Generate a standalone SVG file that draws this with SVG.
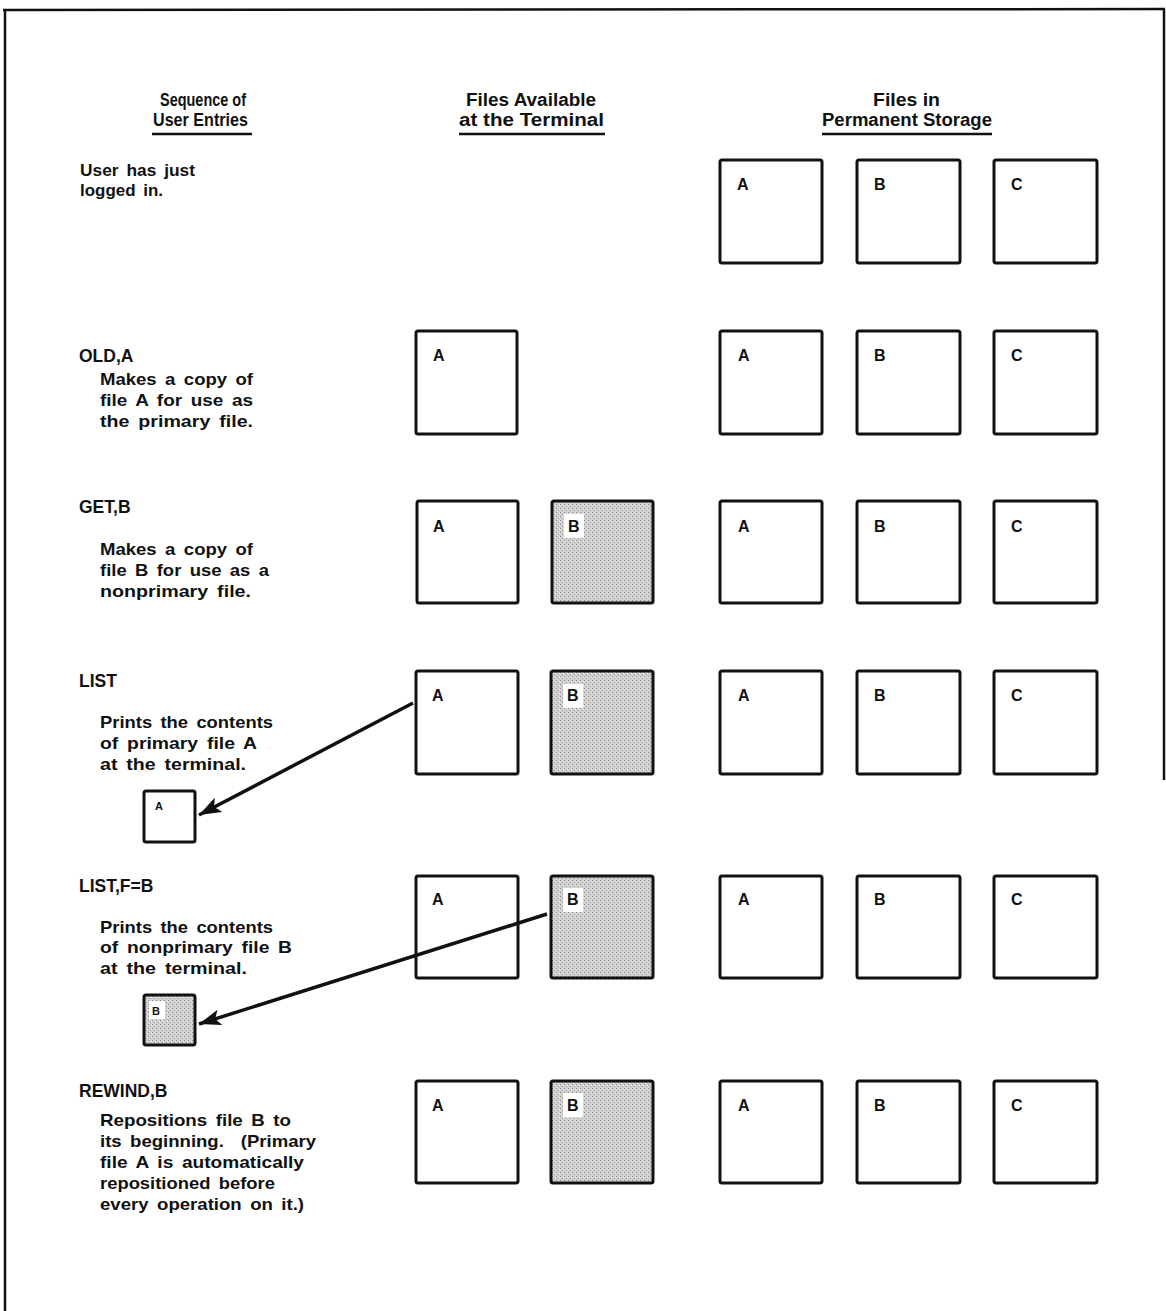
<svg xmlns="http://www.w3.org/2000/svg" width="1166" height="1311" viewBox="0 0 1166 1311">
<style>
text{font-family:"Liberation Sans",Arial,sans-serif;font-weight:bold;fill:#111;}
.h{font-size:18px;font-family:"Liberation Sans Narrow","Liberation Sans",Arial,sans-serif;}
.t{font-size:17px;word-spacing:3px;}
.c{font-size:17.5px;}
.lbl{font-size:16px;}
.sm{font-size:11px;}
.box{fill:#fff;stroke:#111;stroke-width:3;}
.sh{fill:url(#stip);stroke:#111;stroke-width:3;}
.ul{stroke:#111;stroke-width:2.5;}
.conn{stroke:#111;stroke-width:3.5;fill:none;}
</style>
<defs>
<pattern id="stip" width="4" height="4" patternUnits="userSpaceOnUse">
<rect width="4" height="4" fill="#d2d2d2"/>
<rect x="0" y="0" width="1" height="1" fill="#888"/>
<rect x="2" y="2" width="1" height="1" fill="#999"/>
<rect x="3" y="1" width="1" height="1" fill="#eee"/>
</pattern>
<marker id="arr" markerUnits="userSpaceOnUse" markerWidth="24" markerHeight="16" refX="22" refY="8" orient="auto">
<path d="M0,0 L22,8 L0,16 L5,8 Z" fill="#111"/>
</marker>
</defs>
<rect width="1166" height="1311" fill="#fff"/>
<g id="frame" stroke="#111" stroke-width="2.5" fill="none">
<line x1="3" y1="10" x2="1165" y2="9"/>
<line x1="5" y1="10" x2="5" y2="1311"/>
<line x1="1164" y1="9" x2="1164" y2="780"/>
</g>
<g id="headers">
<text class="h" x="160" y="106" textLength="86" lengthAdjust="spacingAndGlyphs">Sequence of</text>
<text class="h" x="153" y="126" textLength="95" lengthAdjust="spacingAndGlyphs">User Entries</text>
<line class="ul" x1="152" y1="134" x2="252" y2="134"/>
<text class="h" x="466" y="106" textLength="130" lengthAdjust="spacingAndGlyphs">Files Available</text>
<text class="h" x="459" y="126" textLength="145" lengthAdjust="spacingAndGlyphs">at the Terminal</text>
<line class="ul" x1="459" y1="134" x2="605" y2="134"/>
<text class="h" x="873" y="106" textLength="67" lengthAdjust="spacingAndGlyphs">Files in</text>
<text class="h" x="822" y="126" textLength="170" lengthAdjust="spacingAndGlyphs">Permanent Storage</text>
<line class="ul" x1="822" y1="134" x2="992" y2="134"/>
</g>
<g id="entries">
<text class="t" x="80" y="176" textLength="115" lengthAdjust="spacingAndGlyphs">User has just</text>
<text class="t" x="80" y="196" textLength="83" lengthAdjust="spacingAndGlyphs">logged in.</text>
<text class="c" x="79" y="362">OLD,A</text>
<text class="t" x="100" y="385" textLength="153" lengthAdjust="spacingAndGlyphs">Makes a copy of</text>
<text class="t" x="100" y="406" textLength="153" lengthAdjust="spacingAndGlyphs">file A for use as</text>
<text class="t" x="100" y="427" textLength="153" lengthAdjust="spacingAndGlyphs">the primary file.</text>
<text class="c" x="79" y="513">GET,B</text>
<text class="t" x="100" y="555" textLength="153" lengthAdjust="spacingAndGlyphs">Makes a copy of</text>
<text class="t" x="100" y="576" textLength="169" lengthAdjust="spacingAndGlyphs">file B for use as a</text>
<text class="t" x="100" y="597" textLength="151" lengthAdjust="spacingAndGlyphs">nonprimary file.</text>
<text class="c" x="79" y="687">LIST</text>
<text class="t" x="100" y="728" textLength="173" lengthAdjust="spacingAndGlyphs">Prints the contents</text>
<text class="t" x="100" y="749" textLength="157" lengthAdjust="spacingAndGlyphs">of primary file A</text>
<text class="t" x="100" y="770" textLength="146" lengthAdjust="spacingAndGlyphs">at the terminal.</text>
<text class="c" x="79" y="892">LIST,F=B</text>
<text class="t" x="100" y="933" textLength="173" lengthAdjust="spacingAndGlyphs">Prints the contents</text>
<text class="t" x="100" y="953" textLength="192" lengthAdjust="spacingAndGlyphs">of nonprimary file B</text>
<text class="t" x="100" y="974" textLength="147" lengthAdjust="spacingAndGlyphs">at the terminal.</text>
<text class="c" x="79" y="1097">REWIND,B</text>
<text class="t" x="100" y="1126" textLength="191" lengthAdjust="spacingAndGlyphs">Repositions file B to</text>
<text class="t" x="100" y="1147" textLength="216" lengthAdjust="spacingAndGlyphs" xml:space="preserve">its beginning.  (Primary</text>
<text class="t" x="100" y="1168" textLength="204" lengthAdjust="spacingAndGlyphs">file A is automatically</text>
<text class="t" x="100" y="1189" textLength="175" lengthAdjust="spacingAndGlyphs">repositioned before</text>
<text class="t" x="100" y="1210" textLength="204" lengthAdjust="spacingAndGlyphs">every operation on it.)</text>
</g>
<!-- row 1 -->
<g id="r1-sA"><rect class="box" x="720" y="160" width="102" height="103" rx="2"/><text class="lbl" x="737" y="190">A</text></g>
<g id="r1-sB"><rect class="box" x="857" y="160" width="103" height="103" rx="2"/><text class="lbl" x="874" y="190">B</text></g>
<g id="r1-sC"><rect class="box" x="994" y="160" width="103" height="103" rx="2"/><text class="lbl" x="1011" y="190">C</text></g>
<!-- row 2 -->
<g id="r2-tA"><rect class="box" x="416" y="331" width="101" height="103" rx="2"/><text class="lbl" x="433" y="361">A</text></g>
<g id="r2-sA"><rect class="box" x="720" y="331" width="102" height="103" rx="2"/><text class="lbl" x="738" y="361">A</text></g>
<g id="r2-sB"><rect class="box" x="857" y="331" width="103" height="103" rx="2"/><text class="lbl" x="874" y="361">B</text></g>
<g id="r2-sC"><rect class="box" x="994" y="331" width="103" height="103" rx="2"/><text class="lbl" x="1011" y="361">C</text></g>
<!-- row 3 -->
<g id="r3-tA"><rect class="box" x="417" y="501" width="101" height="102" rx="2"/><text class="lbl" x="433" y="532">A</text></g>
<g id="r3-tB"><rect class="sh" x="552" y="501" width="101" height="102" rx="2"/><rect x="564" y="514" width="20" height="24" fill="#fff"/><text class="lbl" x="568" y="532">B</text></g>
<g id="r3-sA"><rect class="box" x="720" y="501" width="102" height="102" rx="2"/><text class="lbl" x="738" y="532">A</text></g>
<g id="r3-sB"><rect class="box" x="857" y="501" width="103" height="102" rx="2"/><text class="lbl" x="874" y="532">B</text></g>
<g id="r3-sC"><rect class="box" x="994" y="501" width="103" height="102" rx="2"/><text class="lbl" x="1011" y="532">C</text></g>
<!-- row 4 -->
<g id="r4-tA"><rect class="box" x="416" y="671" width="102" height="103" rx="2"/><text class="lbl" x="432" y="701">A</text></g>
<g id="r4-tB"><rect class="sh" x="551" y="671" width="102" height="103" rx="2"/><rect x="563" y="684" width="20" height="24" fill="#fff"/><text class="lbl" x="567" y="701">B</text></g>
<g id="r4-sA"><rect class="box" x="720" y="671" width="102" height="103" rx="2"/><text class="lbl" x="738" y="701">A</text></g>
<g id="r4-sB"><rect class="box" x="857" y="671" width="103" height="103" rx="2"/><text class="lbl" x="874" y="701">B</text></g>
<g id="r4-sC"><rect class="box" x="994" y="671" width="103" height="103" rx="2"/><text class="lbl" x="1011" y="701">C</text></g>
<g id="r4-out"><rect class="box" x="144" y="791" width="51" height="51" rx="2"/><text class="sm" x="155" y="810">A</text></g>
<!-- row 5 -->
<g id="r5-tA"><rect class="box" x="416" y="876" width="102" height="102" rx="2"/><text class="lbl" x="432" y="905">A</text></g>
<g id="r5-tB"><rect class="sh" x="551" y="876" width="102" height="102" rx="2"/><rect x="563" y="888" width="20" height="24" fill="#fff"/><text class="lbl" x="567" y="905">B</text></g>
<g id="r5-sA"><rect class="box" x="720" y="876" width="102" height="102" rx="2"/><text class="lbl" x="738" y="905">A</text></g>
<g id="r5-sB"><rect class="box" x="857" y="876" width="103" height="102" rx="2"/><text class="lbl" x="874" y="905">B</text></g>
<g id="r5-sC"><rect class="box" x="994" y="876" width="103" height="102" rx="2"/><text class="lbl" x="1011" y="905">C</text></g>
<g id="r5-out"><rect class="sh" x="144" y="995" width="51" height="50" rx="2"/><rect x="149" y="1001" width="16" height="18" fill="#fff"/><text class="sm" x="152" y="1015">B</text></g>
<!-- row 6 -->
<g id="r6-tA"><rect class="box" x="416" y="1081" width="102" height="102" rx="2"/><text class="lbl" x="432" y="1111">A</text></g>
<g id="r6-tB"><rect class="sh" x="551" y="1081" width="102" height="102" rx="2"/><rect x="563" y="1093" width="20" height="24" fill="#fff"/><text class="lbl" x="567" y="1111">B</text></g>
<g id="r6-sA"><rect class="box" x="720" y="1081" width="102" height="102" rx="2"/><text class="lbl" x="738" y="1111">A</text></g>
<g id="r6-sB"><rect class="box" x="857" y="1081" width="103" height="102" rx="2"/><text class="lbl" x="874" y="1111">B</text></g>
<g id="r6-sC"><rect class="box" x="994" y="1081" width="103" height="102" rx="2"/><text class="lbl" x="1011" y="1111">C</text></g>
<g id="connectors">
<line class="conn" x1="413" y1="703" x2="199" y2="815" marker-end="url(#arr)"/>
<line class="conn" x1="547" y1="914" x2="199" y2="1024" marker-end="url(#arr)"/>
</g>
</svg>
